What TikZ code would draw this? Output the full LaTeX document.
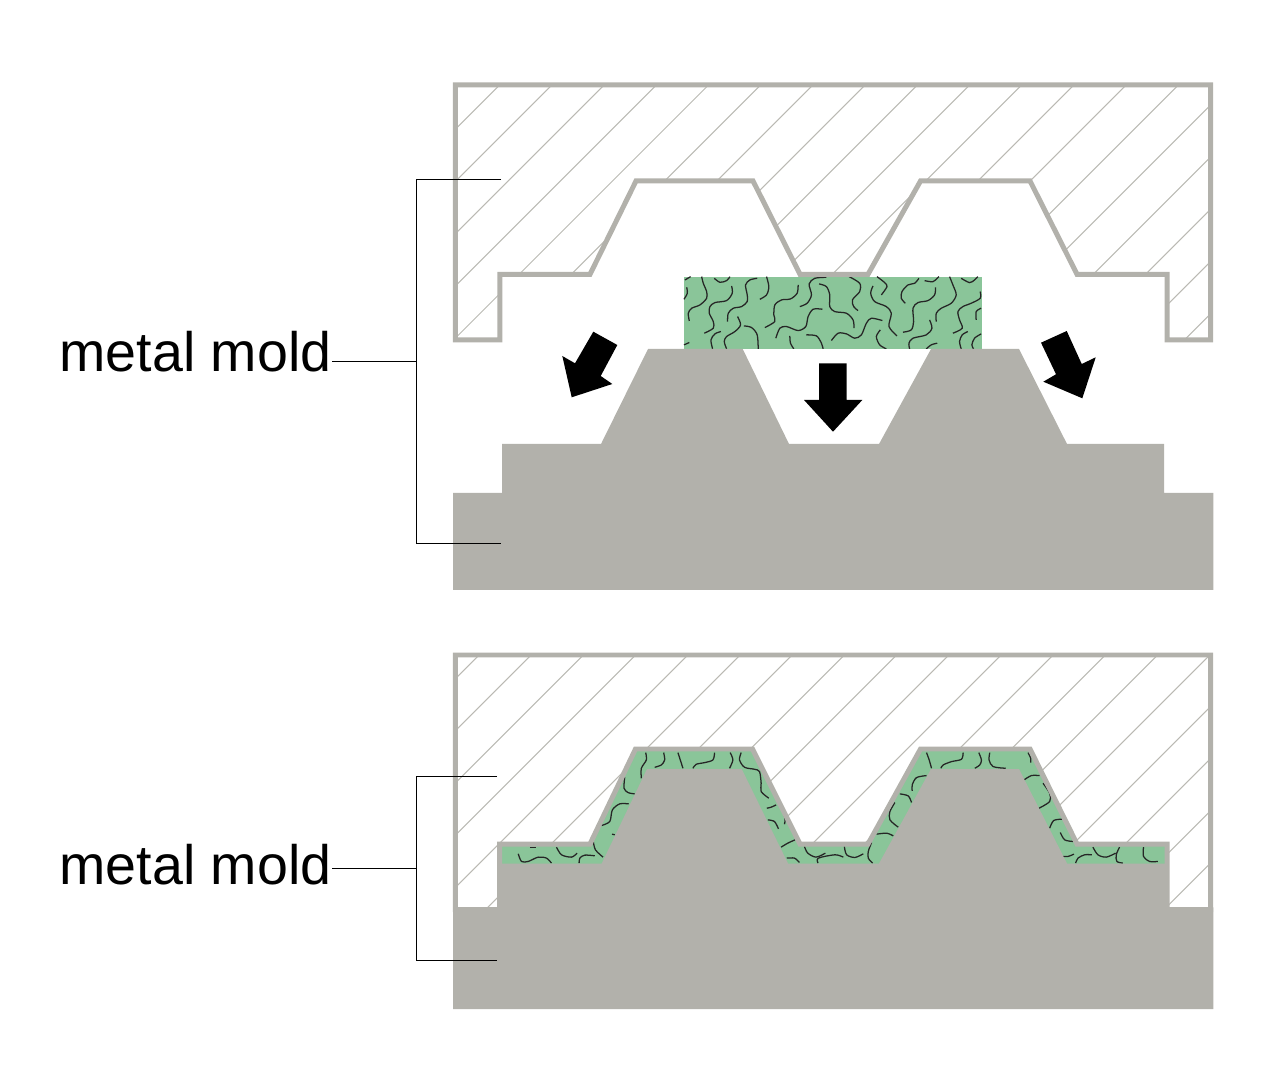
\documentclass[tikz,border=0pt]{standalone}
\usepackage{fontspec}
\setmainfont{Liberation Sans}
\usetikzlibrary{positioning}

\definecolor{moldgray}{HTML}{B2B1AB}
\definecolor{fibergreen}{HTML}{8AC599}

% outline of the open upper mold and of the closed one
\def\moldopen{(455.3,85) -- (1210.6,85) -- (1210.6,340) -- (1167,340) -- (1167,274.3) -- (1077,274.3) -- (1030,181) -- (920.5,181) -- (868,274.3) -- (800,274.3) -- (753,181) -- (636,181) -- (590,274.3) -- (499.8,274.3) -- (499.8,340) -- (455.3,340) -- cycle}
\def\moldclosed{(455.3,655) -- (1210.6,655) -- (1210.6,909.5) -- (1167,909.5) -- (1167,844) -- (1077,844) -- (1030,749) -- (920.5,749) -- (868,844) -- (800,844) -- (752.5,749) -- (635.5,749) -- (590,844) -- (499.5,844) -- (499.5,909.5) -- (455.3,909.5) -- cycle}
\def\cavity{(499.5,844) -- (590,844) -- (635.5,749) -- (752.5,749) -- (800,844) -- (868,844) -- (920.5,749) -- (1030,749) -- (1077,844) -- (1167,844) -- (1167,880) -- (499.5,880) -- cycle}

\begin{document}
\begin{tikzpicture}[
    x = 0.01cm,
    y = -0.01cm, % coordinates are pixels of the picture
    moldline/.style = {draw = moldgray, line width = 1.42pt},
    hatchline/.style = {draw = moldgray!90, line width = 0.3pt},
    bracket/.style = {draw = black, line width = 0.28pt},
    fiber/.style = {draw = black!85, line width = 0.36pt},
    bigarrow/.style = {fill = black},
    caption/.style = {font = \fontsize{15.8pt}{18pt}\selectfont, inner sep = 0pt, anchor = base west}
    ]

    \useasboundingbox (0,0) rectangle (1280,1074);

    % hatching of both molds
    \begin{scope}
        \clip \moldopen;
        \foreach \c in {532.5,584.7,...,1600}
            \draw[hatchline] (\c,0) -- (0,\c);
    \end{scope}
    \begin{scope}
        \clip \moldclosed;
        \foreach \c in {1134,1186.2,...,2150}
            \draw[hatchline] (\c,0) -- (0,\c);
    \end{scope}

    % sheet of fibre material
    \fill[fibergreen] (683.7,276.7) rectangle (981.7,349);
    \begin{scope}
        \clip (683.7,276.7) rectangle (981.7,349);
        \begin{scope}[shift = {(670,260)}, x = 0.003333cm, y = -0.003333cm]
            \draw[fiber] plot[smooth] coordinates {(45,60) (62,50)};
            \draw[fiber] plot[smooth] coordinates {(42,118) (52,100) (50,82)};
            \draw[fiber] plot[smooth] coordinates {(95,50) (100,70) (110,95) (110,115) (90,135) (65,145) (55,160) (58,183)};
            \draw[fiber] plot[smooth] coordinates {(133,55) (150,67) (170,62) (180,50)};
            \draw[fiber] plot[smooth] coordinates {(185,78) (187,100) (170,122) (135,128) (120,140) (118,160) (130,185) (130,205) (103,220)};
            \draw[fiber] plot[smooth] coordinates {(262,55) (240,60) (227,75) (232,105) (232,125) (215,140) (190,145) (175,160) (173,185)};
            \draw[fiber] plot[smooth] coordinates {(290,50) (297,80) (290,105) (270,118)};
            \draw[fiber] plot[smooth] coordinates {(385,75) (382,100) (362,117) (335,120) (315,135) (312,165) (315,185) (285,203)};
            \draw[fiber] plot[smooth] coordinates {(203,170) (212,195) (195,215) (170,230) (163,245) (170,267)};
            \draw[fiber] plot[smooth] coordinates {(153,215) (135,222) (123,240) (128,267)};
            \draw[fiber] plot[smooth] coordinates {(222,198) (245,203) (262,225) (265,267)};
            \draw[fiber] plot[smooth] coordinates {(470,52) (435,55) (418,72) (425,105) (412,130) (390,140)};
            \draw[fiber] plot[smooth] coordinates {(458,148) (430,148) (415,170) (408,200) (385,212) (350,200) (330,205) (318,235)};
            \draw[fiber] plot[smooth] coordinates {(448,72) (470,80) (480,105) (480,140) (495,155) (530,160) (550,180) (553,205)};
            \draw[fiber] plot[smooth] coordinates {(360,228) (362,250) (372,267)};
            \draw[fiber] plot[smooth] coordinates {(410,225) (440,228) (455,250) (460,267)};
            \draw[fiber] plot[smooth] coordinates {(485,242) (505,220) (530,222) (555,235) (575,225) (590,190) (605,175) (638,182)};
            \draw[fiber] plot[smooth] coordinates {(538,50) (570,70) (570,95) (548,120) (552,140) (565,152)};
            \draw[fiber] plot[smooth] coordinates {(622,50) (645,68) (652,80) (635,105)};
            \draw[fiber] plot[smooth] coordinates {(632,210) (620,230) (630,255) (650,267)};
            \draw[fiber] plot[smooth] coordinates {(610,78) (603,100) (615,125) (650,140) (665,160) (658,200) (682,228)};
            \draw[fiber] plot[smooth] coordinates {(748,55) (735,70) (715,75) (697,95) (695,115) (707,130)};
            \draw[fiber] plot[smooth] coordinates {(765,62) (790,65) (808,50)};
            \draw[fiber] plot[smooth] coordinates {(798,82) (795,105) (775,122) (745,128) (730,145) (732,185) (725,210) (700,217)};
            \draw[fiber] plot[smooth] coordinates {(840,50) (850,75) (860,105) (845,130) (815,145) (800,160) (800,185)};
            \draw[fiber] plot[smooth] coordinates {(875,55) (900,68) (915,60) (925,50)};
            \draw[fiber] plot[smooth] coordinates {(932,95) (932,115) (905,130) (880,140) (865,155) (870,180) (878,205) (850,220)};
            \draw[fiber] plot[smooth] coordinates {(780,180) (787,205) (770,225) (730,235) (718,250) (720,267)};
            \draw[fiber] plot[smooth] coordinates {(803,250) (785,255) (770,267)};
            \draw[fiber] plot[smooth] coordinates {(895,215) (878,225) (870,245) (875,267)};
            \draw[fiber] plot[smooth] coordinates {(935,222) (915,235) (907,255) (912,267)};
            \draw[fiber] plot[smooth] coordinates {(935,145) (920,155) (920,180)};
            \draw[fiber] plot[smooth] coordinates {(42,255) (58,248)};
        \end{scope}
    \end{scope}

    % pressed material between the closed mold
    \fill[fibergreen] \cavity;
    \begin{scope}
        \clip \cavity;
        \begin{scope}[shift = {(440,730)}, x = 0.003333cm, y = -0.003333cm]
            \draw[fiber] plot[smooth] coordinates {(618,68) (620,90) (605,115) (605,145)};
            \draw[fiber] plot[smooth] coordinates {(672,68) (675,90) (665,105) (645,112)};
            \draw[fiber] plot[smooth] coordinates {(715,68) (722,90) (730,115)};
            \draw[fiber] plot[smooth] coordinates {(825,68) (820,90) (795,98) (770,103) (760,115)};
            \draw[fiber] plot[smooth] coordinates {(872,68) (880,90) (870,115)};
            \draw[fiber] plot[smooth] coordinates {(905,68) (900,90) (915,112) (945,118) (960,125) (965,160) (965,185) (988,205)};
            \draw[fiber] plot[smooth] coordinates {(1010,225) (995,232) (982,235)};
            \draw[fiber] plot[smooth] coordinates {(1035,258) (1037,272) (1035,283)};
            \draw[fiber] plot[smooth] coordinates {(985,270) (1005,275) (1017,297)};
            \draw[fiber] plot[smooth] coordinates {(1067,330) (1045,340) (1025,352)};
            \draw[fiber] plot[smooth] coordinates {(1042,385) (1065,385) (1080,398)};
            \draw[fiber] plot[smooth] coordinates {(1095,350) (1105,370) (1130,382) (1158,370)};
            \draw[fiber] plot[smooth] coordinates {(555,142) (553,175) (565,188) (585,192)};
            \draw[fiber] plot[smooth] coordinates {(567,222) (540,222) (518,240) (510,275) (485,287)};
            \draw[fiber] plot[smooth] coordinates {(517,313) (525,315)};
            \draw[fiber] plot[smooth] coordinates {(460,332) (467,360) (490,382)};
            \draw[fiber] plot[smooth] coordinates {(465,378) (435,376) (420,385) (418,400)};
            \draw[fiber] plot[smooth] coordinates {(350,352) (365,375) (395,382) (412,370)};
            \draw[fiber] plot[smooth] coordinates {(270,352) (288,352)};
            \draw[fiber] plot[smooth] coordinates {(235,372) (245,395) (265,395) (295,382) (320,385) (335,400)};
        \end{scope}
        \begin{scope}[shift = {(830,730)}, x = 0.003333cm, y = -0.003333cm]
            \draw[fiber] plot[smooth] coordinates {(290,68) (298,90) (305,115)};
            \draw[fiber] plot[smooth] coordinates {(400,68) (395,88) (365,95) (340,105) (333,115)};
            \draw[fiber] plot[smooth] coordinates {(447,68) (455,90) (450,105) (435,115)};
            \draw[fiber] plot[smooth] coordinates {(480,68) (478,90) (490,110) (528,115)};
            \draw[fiber] plot[smooth] coordinates {(595,68) (603,85) (603,98)};
            \draw[fiber] plot[smooth] coordinates {(630,137) (605,137) (583,150)};
            \draw[fiber] plot[smooth] coordinates {(640,160) (660,190) (660,215) (628,235)};
            \draw[fiber] plot[smooth] coordinates {(697,268) (672,272) (660,295)};
            \draw[fiber] plot[smooth] coordinates {(692,308) (705,330) (730,335)};
            \draw[fiber] plot[smooth] coordinates {(733,373) (715,380) (700,380)};
            \draw[fiber] plot[smooth] coordinates {(787,375) (765,375) (745,385) (738,400)};
            \draw[fiber] plot[smooth] coordinates {(790,352) (805,375) (830,382) (858,370)};
            \draw[fiber] plot[smooth] coordinates {(870,352) (860,375) (862,395) (880,400)};
            \draw[fiber] plot[smooth] coordinates {(942,352) (942,380) (960,395) (985,395)};
            \draw[fiber] plot[smooth] coordinates {(290,137) (260,143) (247,165) (247,183)};
            \draw[fiber] plot[smooth] coordinates {(210,192) (235,198) (245,218)};
            \draw[fiber] plot[smooth] coordinates {(195,218) (180,245) (180,270) (205,292)};
            \draw[fiber] plot[smooth] coordinates {(140,313) (170,310) (190,318)};
            \draw[fiber] plot[smooth] coordinates {(125,338) (115,365) (115,385) (128,400)};
            \draw[fiber] plot[smooth] coordinates {(40,382) (15,375) (-35,385) (-36,400)};
            \draw[fiber] plot[smooth] coordinates {(43,350) (50,375) (75,383) (100,372)};
        \end{scope}
    \end{scope}

    \draw[moldline] \moldopen;
    \draw[moldline] \moldclosed;

    % lower halves of the mold
    \fill[moldgray] (453,590) -- (453,493) -- (502,493) -- (502,444) -- (601,444) -- (648,349) -- (742.7,349) -- (789,444) -- (879,444) -- (931,349) -- (1019,349) -- (1067,444) -- (1164,444) -- (1164,493) -- (1213.3,493) -- (1213.3,590) -- cycle;
    \fill[moldgray] (453,1009) -- (453,907.3) -- (501.7,907.3) -- (501.7,863.5) -- (601.7,863.5) -- (647,769) -- (741.7,769) -- (788,863.5) -- (879,863.5) -- (931,769) -- (1019,769) -- (1067,863.5) -- (1165,863.5) -- (1165,907.3) -- (1213.3,907.3) -- (1213.3,1009) -- cycle;

    % press arrows
    \fill[bigarrow] (593.3,331.7) -- (617.3,345) -- (600.7,376) -- (612.3,384) -- (571.7,397.3) -- (562.3,356) -- (575,363.3) -- cycle;
    \fill[bigarrow] (819,363.3) -- (846.7,363.3) -- (846.7,400) -- (862.3,400) -- (833,431.7) -- (804,400) -- (819,400) -- cycle;
    \fill[bigarrow] (1066.7,331) -- (1041,342.7) -- (1056,374.3) -- (1043.3,381.7) -- (1082.3,398.3) -- (1095.7,357.3) -- (1081.7,364) -- cycle;

    % labels and brackets
    \node[caption] (moldA) at (59,371.5) {metal mold};
    \node[caption] (moldB) at (59,884) {metal mold};
    \coordinate (spineA) at (416.7,361.5);
    \coordinate (spineB) at (416.7,868.5);
    \draw[bracket] (501,180) -| (spineA) |- (501,543);
    \draw[bracket] (497,776.5) -| (spineB) |- (497,960);
    \draw[bracket] (moldA.base east |- spineA) -- (spineA);
    \draw[bracket] (moldB.base east |- spineB) -- (spineB);
\end{tikzpicture}
\end{document}
